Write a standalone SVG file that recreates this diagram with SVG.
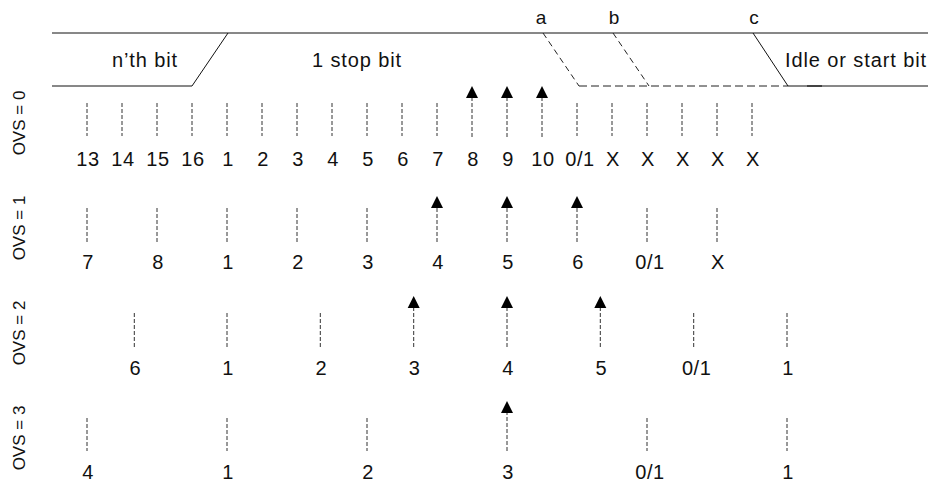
<svg xmlns="http://www.w3.org/2000/svg" width="928" height="482" viewBox="0 0 928 482">
<style>
text{font-family:"Liberation Sans",Arial,sans-serif;fill:#111}
.lbl{font-size:20px;text-anchor:middle;letter-spacing:0.6px}
.hdr{font-size:20px;text-anchor:middle;letter-spacing:0.9px}
.abc{font-size:19px;text-anchor:middle}
.ovs{font-size:17px;text-anchor:middle}
.wave{stroke:#111;stroke-width:1;fill:none}
.wdash{stroke:#222;stroke-width:1;fill:none;stroke-dasharray:6,4}
.tick{stroke:#333;stroke-width:1;stroke-dasharray:4,2;fill:none}
</style>
<g id="waveform">
<polyline class="wave" points="52,33 928,33"/>
<polyline class="wave" points="52,86 192,86 228,33"/>
<line class="wdash" x1="543" y1="33" x2="579" y2="86"/>
<line class="wdash" x1="613" y1="33" x2="649" y2="86"/>
<line class="wdash" x1="579" y1="86" x2="788" y2="86" style="stroke-dasharray:8,4"/>
<polyline class="wave" points="753,33 788,86 928,86"/>
<line x1="807" y1="86" x2="822" y2="86" stroke="#333" stroke-width="1.6"/>
<text class="hdr" x="145" y="67">n’th bit</text>
<text class="hdr" x="357" y="67">1 stop bit</text>
<text class="hdr" x="856" y="67">Idle or start bit</text>
<text class="abc" x="541" y="24">a</text>
<text class="abc" x="614" y="24">b</text>
<text class="abc" x="754" y="24">c</text>
</g>
<g id="ovs-labels">
<text class="ovs" transform="translate(25,123) rotate(-90)">OVS = 0</text>
<text class="ovs" transform="translate(25,228) rotate(-90)">OVS = 1</text>
<text class="ovs" transform="translate(25,333) rotate(-90)">OVS = 2</text>
<text class="ovs" transform="translate(25,438) rotate(-90)">OVS = 3</text>
</g>
<g id="arrowheads" fill="#000">
<polygon points="472,86 466,98 478,98"/>
<polygon points="507,86 501,98 513,98"/>
<polygon points="542,86 536,98 548,98"/>
<polygon points="437,196 431,208 443,208"/>
<polygon points="507,196 501,208 513,208"/>
<polygon points="577,196 571,208 583,208"/>
<polygon points="413.7,296 407.7,308 419.7,308"/>
<polygon points="507,296 501,308 513,308"/>
<polygon points="600.3,296 594.3,308 606.3,308"/>
<polygon points="507,401 501,413 513,413"/>
</g>
<g id="connectors">
<path class="tick" d="M87,103V136M122,103V136M157,103V136M192,103V136M227,103V136M262,103V136M297,103V136M332,103V136M367,103V136M402,103V136M437,103V136M577,103V136M612,103V136M647,103V136M682,103V136M717,103V136M752,103V136"/>
<path class="tick" d="M472,137V98M507,137V98M542,137V98"/>
<path class="tick" d="M87,208V242M157,208V242M227,208V242M297,208V242M367,208V242M647,208V242M717,208V242"/>
<path class="tick" d="M437,242V208M507,242V208M577,242V208"/>
<path class="tick" d="M134.3,313V347M227,313V347M320.3,313V347M693.7,313V347M787,313V347"/>
<path class="tick" d="M413.7,347V308M507,347V308M600.3,347V308"/>
<path class="tick" d="M87,418V451M227,418V451M367,418V451M647,418V451M787,418V451"/>
<path class="tick" d="M507,451V413"/>
</g>
<g id="row0-labels">
<text class="lbl" x="88" y="166">13</text>
<text class="lbl" x="123" y="166">14</text>
<text class="lbl" x="158" y="166">15</text>
<text class="lbl" x="193" y="166">16</text>
<text class="lbl" x="228" y="166">1</text>
<text class="lbl" x="263" y="166">2</text>
<text class="lbl" x="298" y="166">3</text>
<text class="lbl" x="333" y="166">4</text>
<text class="lbl" x="368" y="166">5</text>
<text class="lbl" x="403" y="166">6</text>
<text class="lbl" x="438" y="166">7</text>
<text class="lbl" x="473" y="166">8</text>
<text class="lbl" x="508" y="166">9</text>
<text class="lbl" x="543" y="166">10</text>
<text class="lbl" x="580" y="166">0/1</text>
<text class="lbl" x="613" y="166">X</text>
<text class="lbl" x="648" y="166">X</text>
<text class="lbl" x="683" y="166">X</text>
<text class="lbl" x="718" y="166">X</text>
<text class="lbl" x="753" y="166">X</text>
</g>
<g id="row1-labels">
<text class="lbl" x="88" y="269">7</text>
<text class="lbl" x="158" y="269">8</text>
<text class="lbl" x="228" y="269">1</text>
<text class="lbl" x="298" y="269">2</text>
<text class="lbl" x="368" y="269">3</text>
<text class="lbl" x="438" y="269">4</text>
<text class="lbl" x="508" y="269">5</text>
<text class="lbl" x="578" y="269">6</text>
<text class="lbl" x="650" y="269">0/1</text>
<text class="lbl" x="718" y="269">X</text>
</g>
<g id="row2-labels">
<text class="lbl" x="135.3" y="375">6</text>
<text class="lbl" x="228" y="375">1</text>
<text class="lbl" x="321.3" y="375">2</text>
<text class="lbl" x="414.7" y="375">3</text>
<text class="lbl" x="508" y="375">4</text>
<text class="lbl" x="601.3" y="375">5</text>
<text class="lbl" x="696.7" y="375">0/1</text>
<text class="lbl" x="788" y="375">1</text>
</g>
<g id="row3-labels">
<text class="lbl" x="88" y="479">4</text>
<text class="lbl" x="228" y="479">1</text>
<text class="lbl" x="368" y="479">2</text>
<text class="lbl" x="508" y="479">3</text>
<text class="lbl" x="650" y="479">0/1</text>
<text class="lbl" x="788" y="479">1</text>
</g>
</svg>
